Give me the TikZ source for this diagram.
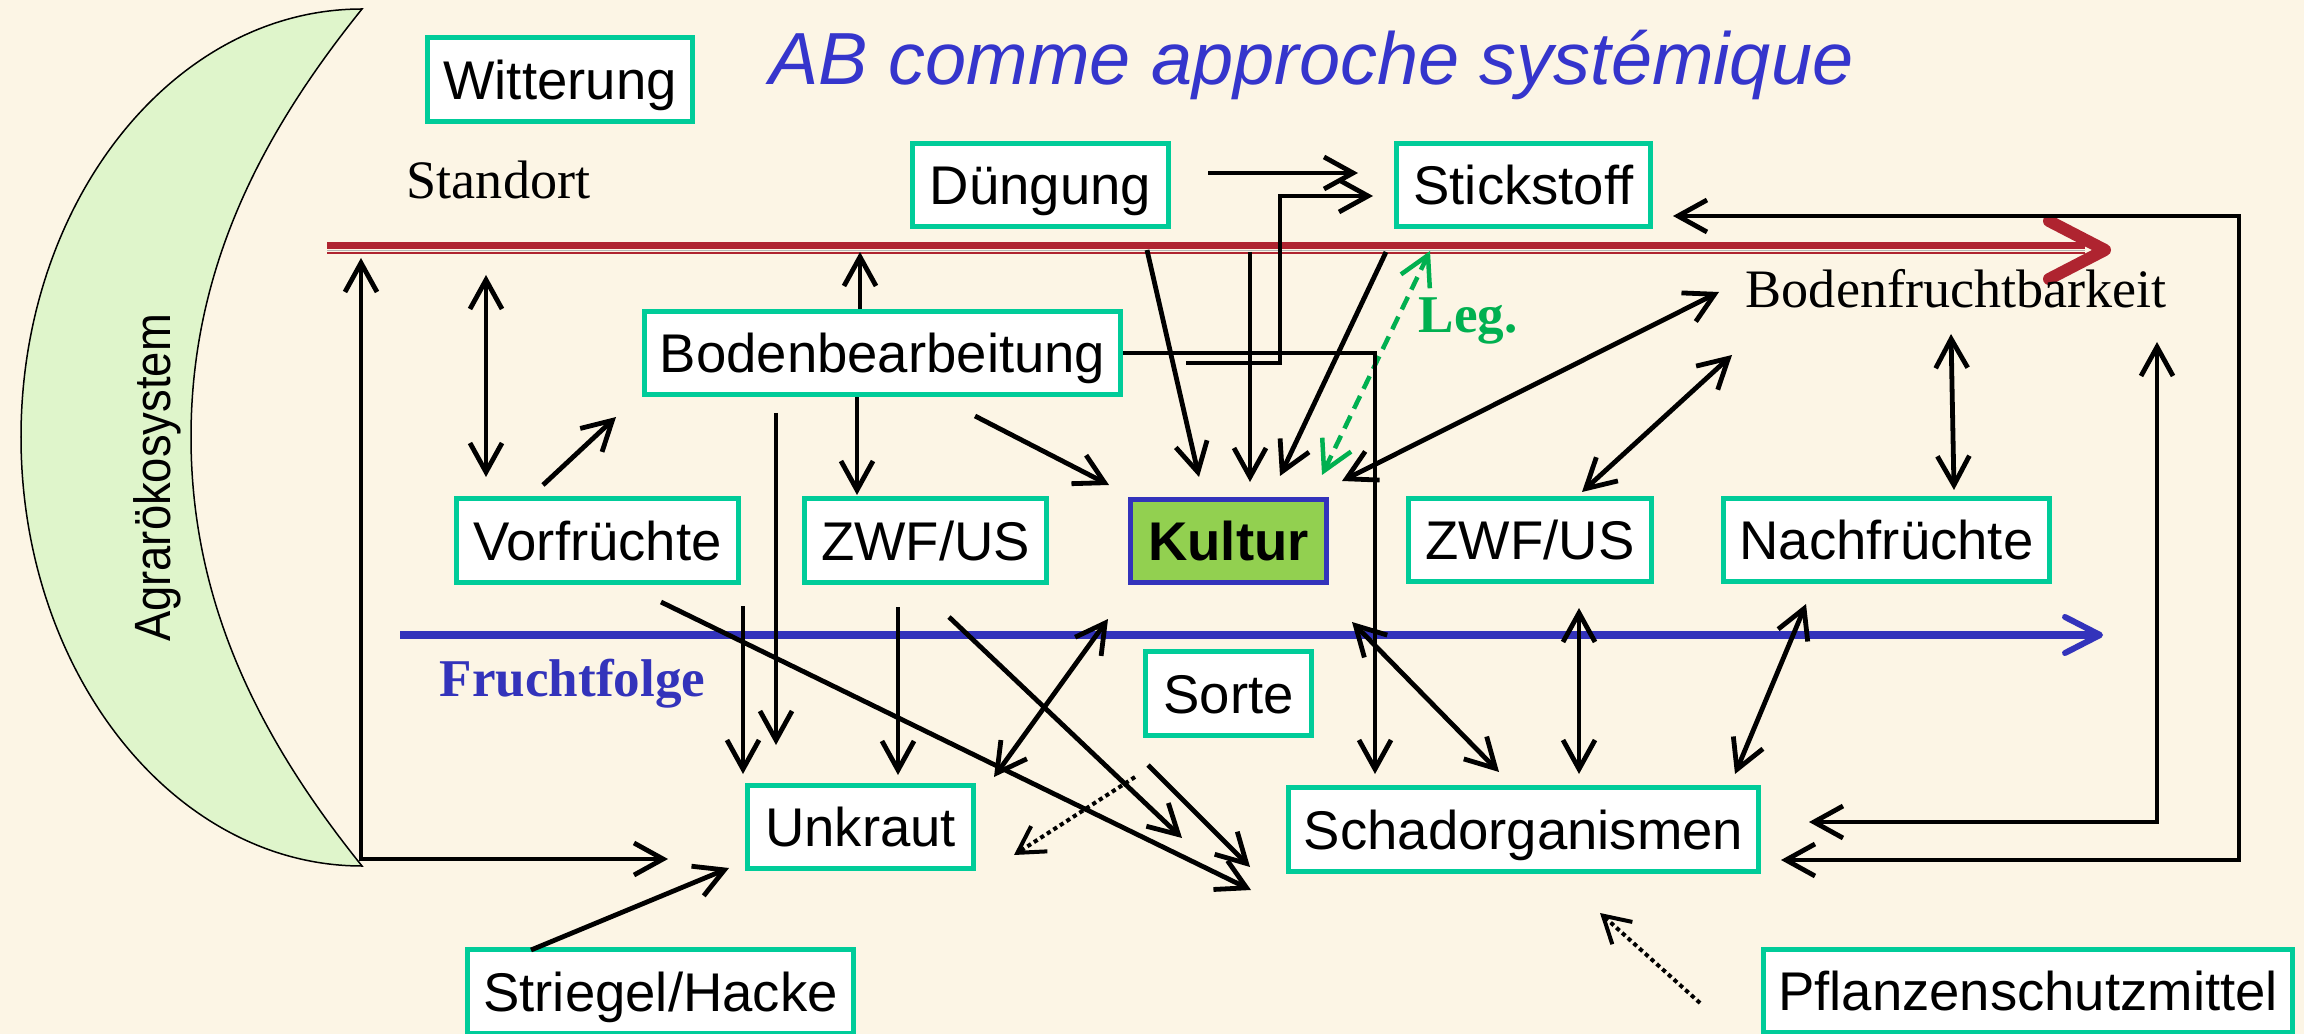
\documentclass[tikz,border=0pt]{standalone}
\usepackage{fontspec}
\setmainfont{Liberation Serif}
\setsansfont{Liberation Sans}
\usepackage{xcolor}
\usepackage{tikz}
\usetikzlibrary{arrows.meta}

\definecolor{bgcream}{HTML}{FCF5E5}
\definecolor{boxgreen}{HTML}{00CC99}
\definecolor{kulturgreen}{HTML}{92D050}
\definecolor{darkblue}{HTML}{3333BB}
\definecolor{titleblue}{HTML}{3535CC}
\definecolor{standortred}{HTML}{AF2430}
\definecolor{leggreen}{HTML}{00B050}
\definecolor{moongreen}{HTML}{DFF5CB}

\tikzstyle{box} = [rectangle, draw=boxgreen, line width=0.05cm, fill=white, minimum height=0.83cm, inner sep=0pt, text height=0.39cm, text depth=0pt, font=\sffamily\fontsize{15.5pt}{18pt}\selectfont]
\tikzstyle{arrow} = [line width=0.048cm, -{Straight Barb[length=0.29cm,width=0.32cm]}]
\tikzstyle{dblarrow} = [line width=0.048cm, {Straight Barb[length=0.29cm,width=0.32cm]}-{Straight Barb[length=0.29cm,width=0.32cm]}]
\tikzstyle{dotarrow} = [line width=0.04cm, dash pattern=on 1.2pt off 1pt, -{Straight Barb[length=0.26cm,width=0.3cm]}]
\tikzstyle{legarrow} = [leggreen, line width=0.045cm, dash pattern=on 0.14cm off 0.08cm, {Straight Barb[length=0.29cm,width=0.32cm]}-{Straight Barb[length=0.29cm,width=0.32cm]}]
\tikzstyle{serifnote} = [anchor=base west, inner sep=0pt, font=\fontsize{15.4pt}{18pt}\selectfont]

\begin{document}
\begin{tikzpicture}[x=0.01cm, y=-0.01cm]

      \useasboundingbox (0,0) rectangle (2304,1034);
      \fill[bgcream] (0,0) rectangle (2304,1034);

      % Agraroekosystem
      \draw[fill=moongreen, line width=0.015cm] (362,9) .. controls (174,9) and (21,201) .. (21,437)
        .. controls (21,673) and (174,866) .. (362,866)
        .. controls (263,743) and (191,607) .. (191,437)
        .. controls (191,267) and (263,132) .. (362,9) -- cycle;
      \node (agrar) [rotate=90, font=\sffamily\fontsize{14.5pt}{17pt}\selectfont] at (157,478) {\scalebox{0.89}[1]{Agrarökosystem}};

      % Title
      \node (title) [anchor=base west, inner sep=0pt, text=titleblue, font=\sffamily\itshape\fontsize{21pt}{25pt}\selectfont] at (769,85) {AB comme approche systémique};

      % Standort and Fruchtfolge
      \coordinate (sl) at (327,250);
      \coordinate (sr) at (2105,250);
      \draw[standortred, line width=0.07cm] ([yshift=0.045cm]sl) -- ([yshift=0.045cm, xshift=-0.2cm]sr);
      \draw[gray!60, line width=0.015cm] ([yshift=-0.005cm]sl) -- ([yshift=-0.005cm, xshift=-0.2cm]sr);
      \draw[standortred, line width=0.025cm] ([yshift=-0.03cm]sl) -- ([yshift=-0.03cm, xshift=-0.2cm]sr);
      \draw[standortred, line width=0.12cm, line cap=round, line join=round] (2049,221) -- (sr) -- (2049,279);

      \coordinate (fl) at (400,635);
      \coordinate (fr) at (2100,635);
      \draw[darkblue, line width=0.08cm] (fl) -- ([xshift=-0.05cm]fr);
      \draw[darkblue, line width=0.06cm, line cap=round, line join=round] (2065,617) -- (fr) -- (2065,653);

      \node (standort) [serifnote] at (406,199) {Standort};
      \node (bodenfr) [serifnote] at (1745,308) {Bodenfruchtbarkeit};
      \node (fruchtfolge) [serifnote, text=darkblue, font=\bfseries\fontsize{15.1pt}{18pt}\selectfont] at (439,696) {Fruchtfolge};
      \node (leg) [serifnote, text=leggreen, font=\bfseries\fontsize{15.1pt}{18pt}\selectfont] at (1418,333) {Leg.};

      % Nodes
      \node (witterung) [box, minimum width=2.65cm] at (560,79.5) {Witterung};
      \node (duengung) [box, minimum width=2.56cm] at (1040.5,185) {Düngung};
      \node (stickstoff) [box, minimum width=2.54cm] at (1523.5,185) {Stickstoff};
      \node (boden) [box, minimum width=4.76cm] at (882.5,353) {Bodenbearbeitung};
      \node (vorfr) [box, minimum width=2.82cm] at (597.5,540.5) {Vorfrüchte};
      \node (zwfa) [box, minimum width=2.42cm] at (925.5,540.5) {ZWF/US};
      \node (kultur) [box, draw=darkblue, fill=kulturgreen, line width=0.055cm, minimum width=1.96cm, font=\sffamily\bfseries\fontsize{15.5pt}{18pt}\selectfont] at (1228.5,541) {Kultur};
      \node (zwfb) [box, minimum width=2.43cm] at (1530,540) {ZWF/US};
      \node (nachfr) [box, minimum width=3.26cm] at (1886.5,540) {Nachfrüchte};
      \node (sorte) [box, minimum width=1.66cm] at (1228.5,693.5) {Sorte};
      \node (unkraut) [box, minimum width=2.26cm] at (860.5,827) {Unkraut};
      \node (schad) [box, minimum width=4.70cm] at (1523.5,829.5) {Schadorganismen};
      \node (striegel) [box, minimum width=3.86cm] at (660.5,991.5) {Striegel/Hacke};
      \node (pflanzen) [box, minimum width=5.29cm] at (2028,991) {Pflanzenschutzmittel};

      % Free ends
      \coordinate (sfup) at (361,258);
      \coordinate (sfend) at (668,859);
      \coordinate (vs1) at (486,275);
      \coordinate (vs2) at (486,477);
      \coordinate (vb1) at (543,485);
      \coordinate (vb2) at (616,417);
      \coordinate (bu1) at (776,413);
      \coordinate (bu2) at (776,745);
      \coordinate (vu1) at (743,606);
      \coordinate (vu2) at (743,774);
      \coordinate (bs1) at (860,252);
      \coordinate (bz) at (857,495);
      \coordinate (bk1) at (975,416);
      \coordinate (bk2) at (1109,485);
      \coordinate (dk1) at (1147,250);
      \coordinate (dk2) at (1199,477);
      \coordinate (sk1) at (1250,252);
      \coordinate (sk2) at (1250,482);
      \coordinate (stk1) at (1386,252);
      \coordinate (stk2) at (1280,476);
      \coordinate (leg1) at (1430,251);
      \coordinate (leg2) at (1322,475);
      \coordinate (ds1) at (1208,173);
      \coordinate (ds2) at (1358,173);
      \coordinate (bst1) at (1186,363);
      \coordinate (bst2) at (1373,196);
      \coordinate (bsch) at (1375,774);
      \coordinate (bfk1) at (1719,292);
      \coordinate (bfk2) at (1342,481);
      \coordinate (bfz1) at (1732,355);
      \coordinate (bfz2) at (1582,492);
      \coordinate (bfn1) at (1951,334);
      \coordinate (bfn2) at (1954,490);
      \coordinate (stright) at (1673,216);
      \coordinate (schright) at (1781,860);
      \coordinate (schbf1) at (1809,822);
      \coordinate (schbf2) at (2157,342);
      \coordinate (zu1) at (898,607);
      \coordinate (zu2) at (898,775);
      \coordinate (zs1) at (949,617);
      \coordinate (zs2) at (1182,838);
      \coordinate (vsch1) at (661,602);
      \coordinate (vsch2) at (1251,890);
      \coordinate (ku1) at (1108,619);
      \coordinate (ku2) at (994,777);
      \coordinate (ss1) at (1148,765);
      \coordinate (ss2) at (1250,867);
      \coordinate (su1) at (1135,777);
      \coordinate (su2) at (1014,855);
      \coordinate (ksch1) at (1352,622);
      \coordinate (ksch2) at (1499,772);
      \coordinate (zsch1) at (1579,608);
      \coordinate (zsch2) at (1579,774);
      \coordinate (nsch1) at (1806,604);
      \coordinate (nsch2) at (1735,774);
      \coordinate (hu1) at (531,950);
      \coordinate (hu2) at (729,868);
      \coordinate (ps1) at (1700,1003);
      \coordinate (ps2) at (1600,913);

      % Arrows
      \draw [dblarrow] (sfup) |- (sfend);
      \draw [dblarrow] (vs1) -- (vs2);
      \draw [arrow] (vb1) -- (vb2);
      \draw [arrow] (bu1) -- (bu2);
      \draw [arrow] (vu1) -- (vu2);
      \draw [arrow] (boden.north -| bs1) -- (bs1);
      \draw [arrow] (boden.south -| bz) -- (bz);
      \draw [arrow] (bk1) -- (bk2);
      \draw [arrow] (dk1) -- (dk2);
      \draw [arrow] (sk1) -- (sk2);
      \draw [arrow] (stk1) -- (stk2);
      \draw [legarrow] (leg1) -- (leg2);
      \draw [arrow] (ds1) -- (ds2);
      \draw [arrow] (bst1) -- ++(94,0) |- (bst2);
      \draw [arrow] (boden.east) -| (bsch);
      \draw [dblarrow] (bfk1) -- (bfk2);
      \draw [dblarrow] (bfz1) -- (bfz2);
      \draw [dblarrow] (bfn1) -- (bfn2);
      \draw [dblarrow] (stright) -- ++(566,0) |- (schright);
      \draw [dblarrow] (schbf1) -| (schbf2);
      \draw [arrow] (zu1) -- (zu2);
      \draw [arrow] (zs1) -- (zs2);
      \draw [arrow] (vsch1) -- (vsch2);
      \draw [dblarrow] (ku1) -- (ku2);
      \draw [arrow] (ss1) -- (ss2);
      \draw [dotarrow] (su1) -- (su2);
      \draw [dblarrow] (ksch1) -- (ksch2);
      \draw [dblarrow] (zsch1) -- (zsch2);
      \draw [dblarrow] (nsch1) -- (nsch2);
      \draw [arrow] (hu1) -- (hu2);
      \draw [dotarrow] (ps1) -- (ps2);

\end{tikzpicture}
\end{document}
